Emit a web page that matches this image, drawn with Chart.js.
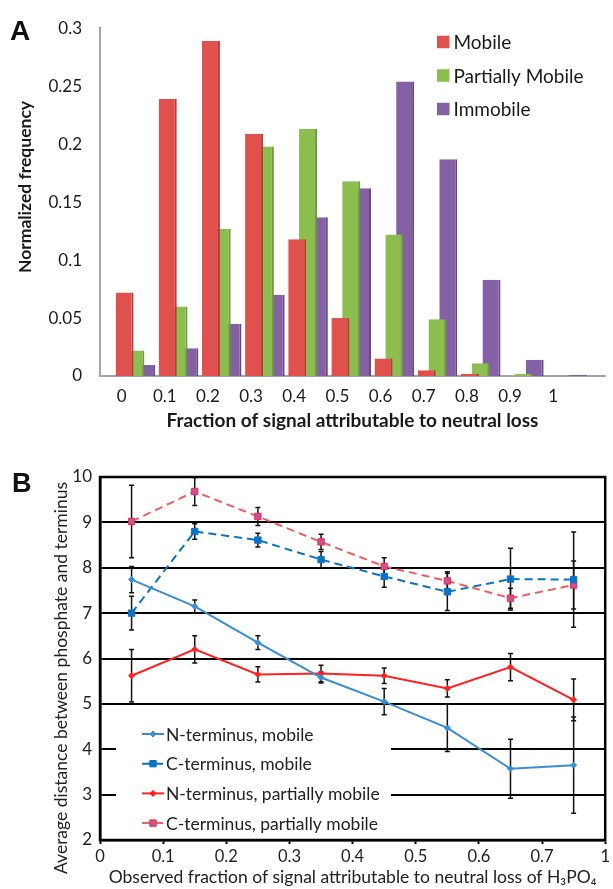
<!DOCTYPE html>
<html>
<head>
<meta charset="utf-8">
<script src="https://cdn.jsdelivr.net/npm/chart.js@4.4.0/dist/chart.umd.min.js"></script>
<style>
  html, body { margin: 0; padding: 0; background: #fff; }
  #wrap { position: relative; width: 613px; height: 889px; overflow: hidden; }
  canvas { position: absolute; left: 0; }
  #chartA { top: 0; }
  #chartB { top: 450px; }
</style>
</head>
<body>
<div id="wrap">
  <canvas id="chartA" width="613" height="440"></canvas>
  <canvas id="chartB" width="613" height="439"></canvas>
</div>
<script>
// ---- Panel A: normalized frequency per neutral-loss bin ----
var fractionBins = [0, 0.1, 0.2, 0.3, 0.4, 0.5, 0.6, 0.7, 0.8, 0.9, 1];
var binLabels = ['0', '0.1', '0.2', '0.3', '0.4', '0.5', '0.6', '0.7', '0.8', '0.9', '1'];
var mobileFreq = [0.072, 0.239, 0.289, 0.209, 0.118, 0.050, 0.015, 0.005, 0.002, 0, 0];
var partialFreq = [0.022, 0.060, 0.127, 0.198, 0.213, 0.168, 0.122, 0.049, 0.011, 0.002, 0];
var immobileFreq = [0.0095, 0.024, 0.045, 0.070, 0.137, 0.162, 0.254, 0.187, 0.083, 0.014, 0.001];
var freqTicks = [0, 0.05, 0.1, 0.15, 0.2, 0.25, 0.3];

// ---- Panel B: average distance vs observed fraction ----
var observedFraction = [0.05, 0.15, 0.25, 0.35, 0.45, 0.55, 0.65, 0.75];
var fractionTickValues = [0, 0.1, 0.2, 0.3, 0.4, 0.5, 0.6, 0.7, 0.8];
var fractionTickLabels = ['0', '0.1', '0.2', '0.3', '0.4', '0.5', '0.6', '0.7', '1'];
var nTermMobile = [7.74, 7.15, 6.35, 5.58, 5.05, 4.47, 3.57, 3.65];
var nTermMobileErr = [0.29, 0.14, 0.15, 0.12, 0.29, 0.52, 0.65, 1.06];
var cTermMobile = [7.00, 8.80, 8.61, 8.18, 7.81, 7.47, 7.75, 7.74];
var cTermMobileErr = [0.37, 0.17, 0.15, 0.18, 0.24, 0.41, 0.68, 1.05];
var nTermPartial = [5.62, 6.20, 5.65, 5.67, 5.62, 5.34, 5.81, 5.09];
var nTermPartialErr = [0.58, 0.30, 0.17, 0.18, 0.17, 0.19, 0.30, 0.46];
var cTermPartial = [9.02, 9.68, 9.13, 8.57, 8.03, 7.71, 7.33, 7.62];
var cTermPartialErr = [0.80, 0.31, 0.20, 0.17, 0.19, 0.20, 0.22, 0.53];

Chart.defaults.font.family = 'Lato, "Open Sans", sans-serif';
Chart.defaults.animation = false;

// bars inside a bin overlap a bit, like the spreadsheet original
var BAR_STEP = 0.025;
var BAR_START = 0.007;

var toPoints = function(xs, ys, shift) {
    return ys.map(function(v, i) { return {x: xs[i] + shift, y: v}; });
};

// text drawn straight on the canvas: panel letter and the rotated y title
var panelText = {
    id: 'panelText',
    afterDraw: function(chart, args, opts) {
        var ctx = chart.ctx;
        ctx.save();
        ctx.fillStyle = '#111';
        ctx.font = opts.letterFont;
        ctx.textBaseline = 'alphabetic';
        ctx.fillText(opts.letter, opts.letterX, opts.letterY);

        ctx.translate(opts.titleX, opts.titleY);
        ctx.rotate(-Math.PI / 2);
        ctx.font = opts.titleFont;
        ctx.fillStyle = opts.titleColor;
        ctx.textAlign = 'center';
        ctx.textBaseline = 'middle';
        ctx.fillText(opts.title, 0, 0);
        ctx.restore();
    }
};

var squareLegend = {
    id: 'squareLegend',
    afterDraw: function(chart, args, opts) {
        var ctx = chart.ctx;
        ctx.save();
        ctx.font = opts.font;
        ctx.textBaseline = 'middle';
        chart.data.datasets.forEach(function(ds, i) {
            var y = opts.top + i * opts.rowGap;
            ctx.fillStyle = ds.backgroundColor;
            ctx.fillRect(opts.left, y - opts.box / 2, opts.box, opts.box);
            ctx.fillStyle = opts.color;
            ctx.fillText(ds.label, opts.left + opts.box + opts.gap, y + 1);
        });
        ctx.restore();
    }
};

var drawMarker = function(ctx, style, r, x, y) {
    ctx.beginPath();
    if (style === 'rectRot') {
        ctx.moveTo(x, y - r);
        ctx.lineTo(x + r, y);
        ctx.lineTo(x, y + r);
        ctx.lineTo(x - r, y);
        ctx.closePath();
    } else {
        var s = r * Math.SQRT1_2;
        ctx.rect(x - s, y - s, 2 * s, 2 * s);
    }
    ctx.fill();
    ctx.stroke();
};

// white legend box sitting on the grid, lower left of panel B
var lineLegend = {
    id: 'lineLegend',
    beforeDatasetsDraw: function(chart, args, opts) {
        var ctx = chart.ctx, area = chart.chartArea;
        var x0 = area.left + opts.left;
        var y0 = area.bottom - opts.bottom - opts.height;
        ctx.save();
        ctx.fillStyle = '#fff';
        ctx.fillRect(x0, y0, opts.width, opts.height);
        ctx.font = opts.font;
        ctx.textBaseline = 'middle';
        chart.data.datasets.forEach(function(ds, i) {
            var y = y0 + opts.firstRow + i * opts.rowGap;
            var lx = x0 + opts.sampleLeft;
            ctx.strokeStyle = ds.borderColor;
            ctx.lineWidth = ds.borderWidth;
            ctx.setLineDash(ds.borderDash || []);
            ctx.beginPath();
            ctx.moveTo(lx, y);
            ctx.lineTo(lx + opts.sample, y);
            ctx.stroke();
            ctx.setLineDash([]);
            ctx.fillStyle = ds.pointBackgroundColor;
            ctx.strokeStyle = ds.pointBorderColor;
            ctx.lineWidth = 1;
            drawMarker(ctx, ds.pointStyle, ds.pointRadius, lx + opts.sample / 2, y);
            ctx.fillStyle = opts.color;
            ctx.fillText(ds.label, lx + opts.sample + 2, y + 1);
        });
        ctx.restore();
    }
};

var errorBars = {
    id: 'errorBars',
    beforeDatasetsDraw: function(chart, args, opts) {
        var ctx = chart.ctx, yScale = chart.scales.y;
        ctx.save();
        ctx.strokeStyle = opts.color;
        ctx.lineWidth = opts.width;
        chart.data.datasets.forEach(function(ds, i) {
            var meta = chart.getDatasetMeta(i);
            (ds.errors || []).forEach(function(err, j) {
                var x = meta.data[j].x;
                var yTop = yScale.getPixelForValue(ds.data[j].y + err);
                var yBot = yScale.getPixelForValue(ds.data[j].y - err);
                ctx.beginPath();
                ctx.moveTo(x, yTop);
                ctx.lineTo(x, yBot);
                ctx.moveTo(x - opts.cap, yTop);
                ctx.lineTo(x + opts.cap, yTop);
                ctx.moveTo(x - opts.cap, yBot);
                ctx.lineTo(x + opts.cap, yBot);
                ctx.stroke();
            });
        });
        ctx.restore();
    }
};

var frameBox = {
    id: 'frameBox',
    afterDraw: function(chart, args, opts) {
        var ctx = chart.ctx, a = chart.chartArea;
        ctx.save();
        ctx.strokeStyle = opts.color;
        ctx.lineWidth = opts.width;
        ctx.strokeRect(a.left, a.top, a.right - a.left, a.bottom - a.top);
        ctx.restore();
    }
};

// ---------------- chart A ----------------
var barDataset = function(label, values, index, fill, edge) {
    return {
        label: label,
        data: toPoints(fractionBins, values, BAR_START + index * BAR_STEP),
        backgroundColor: fill,
        borderColor: edge,
        borderWidth: {top: 0, right: 2, bottom: 0, left: 0},
        grouped: false,
        categoryPercentage: 1,
        barPercentage: 1.67
    };
};

new Chart(document.getElementById('chartA'), {
    type: 'bar',
    data: {
        datasets: [
            barDataset('Mobile', mobileFreq, 0, '#e0504c', '#b73c39'),
            barDataset('Partially Mobile', partialFreq, 1, '#8cbd4f', '#6f9a3b'),
            barDataset('Immobile', immobileFreq, 2, '#8461a4', '#654985')
        ]
    },
    options: {
        responsive: false,
        layout: {padding: {top: 28, right: 8, left: 0, bottom: 0}},
        plugins: {
            legend: {display: false},
            tooltip: {enabled: false},
            panelText: {
                letter: 'A', letterX: 10, letterY: 40,
                letterFont: 'bold 28px "Liberation Sans", Arial, sans-serif',
                title: 'Normalized frequency', titleX: 25, titleY: 187,
                titleFont: 'bold 17.5px Lato, sans-serif', titleColor: '#1a1a1a'
            },
            squareLegend: {
                left: 437, top: 42, rowGap: 33.5, box: 12.5, gap: 4,
                font: '19px Lato, sans-serif', color: '#1a1a1a'
            }
        },
        scales: {
            x: {
                type: 'linear',
                min: -0.05,
                max: 1.12,
                offset: false,
                afterBuildTicks: function(scale) {
                    scale.ticks = fractionBins.map(function(v) { return {value: v}; });
                },
                afterFit: function(scale) { scale.height = 64; },
                ticks: {
                    padding: 10,
                    color: '#1a1a1a',
                    font: {size: 17},
                    maxRotation: 0,
                    autoSkip: false,
                    callback: function(value, i) { return binLabels[i]; }
                },
                grid: {display: false, drawTicks: false},
                border: {display: true, color: '#a4a4a4', width: 2},
                title: {
                    display: true,
                    text: 'Fraction of signal attributable to neutral loss',
                    color: '#1a1a1a',
                    font: {size: 19, weight: 'bold'},
                    padding: {top: 0, bottom: 8}
                }
            },
            y: {
                min: 0,
                max: 0.3,
                afterBuildTicks: function(scale) {
                    scale.ticks = freqTicks.map(function(v) { return {value: v}; });
                },
                afterFit: function(scale) { scale.width = 100; },
                ticks: {
                    padding: 18,
                    color: '#1a1a1a',
                    font: {size: 17},
                    callback: function(value) { return String(value); }
                },
                grid: {display: false, drawTicks: false},
                border: {display: true, color: '#a4a4a4', width: 2}
            }
        }
    },
    plugins: [panelText, squareLegend]
});

// ---------------- chart B ----------------
var lineDataset = function(label, values, errs, opts) {
    return {
        label: label,
        data: toPoints(observedFraction, values, 0),
        errors: errs,
        borderColor: opts.color,
        borderWidth: 2,
        borderDash: opts.dash,
        pointStyle: opts.marker,
        pointRadius: opts.radius,
        pointBackgroundColor: opts.markerFill,
        pointBorderColor: opts.markerEdge,
        pointBorderWidth: 1,
        fill: false,
        tension: 0
    };
};

new Chart(document.getElementById('chartB'), {
    type: 'line',
    data: {
        datasets: [
            lineDataset('N-terminus, mobile', nTermMobile, nTermMobileErr,
                {color: '#3a8dd0', dash: [], marker: 'rectRot', radius: 3, markerFill: '#3a8dd0', markerEdge: '#3a8dd0'}),
            lineDataset('C-terminus, mobile', cTermMobile, cTermMobileErr,
                {color: '#0b72c6', dash: [8, 5], marker: 'rect', radius: 4.5, markerFill: '#0b72c6', markerEdge: '#0b72c6'}),
            lineDataset('N-terminus, partially mobile', nTermPartial, nTermPartialErr,
                {color: '#ff2020', dash: [], marker: 'rectRot', radius: 3, markerFill: '#ff2020', markerEdge: '#ff2020'}),
            lineDataset('C-terminus, partially mobile', cTermPartial, cTermPartialErr,
                {color: '#eb6060', dash: [8, 5], marker: 'rect', radius: 4.5, markerFill: '#c85592', markerEdge: '#f0284e'})
        ]
    },
    options: {
        responsive: false,
        layout: {padding: {top: 27, right: 4, left: 0, bottom: 0}},
        plugins: {
            legend: {display: false},
            tooltip: {enabled: false},
            panelText: {
                letter: 'B', letterX: 12, letterY: 42,
                letterFont: 'bold 27px "Liberation Sans", Arial, sans-serif',
                title: 'Average distance between phosphate and terminus', titleX: 61, titleY: 228,
                titleFont: '17.5px Lato, sans-serif', titleColor: '#222'
            },
            lineLegend: {
                left: 16, bottom: 3, width: 275, height: 125,
                firstRow: 22, rowGap: 29.7, sampleLeft: 26, sample: 22,
                font: '17.5px Lato, sans-serif', color: '#222'
            },
            errorBars: {color: '#111', width: 1.5, cap: 2.5},
            frameBox: {color: '#000', width: 2.5}
        },
        scales: {
            x: {
                type: 'linear',
                min: 0,
                max: 0.8,
                afterBuildTicks: function(scale) {
                    scale.ticks = fractionTickValues.map(function(v) { return {value: v}; });
                },
                afterFit: function(scale) { scale.height = 49; },
                ticks: {
                    padding: 3,
                    color: '#222',
                    font: {size: 16.5},
                    maxRotation: 0,
                    autoSkip: false,
                    callback: function(value, i) { return fractionTickLabels[i]; }
                },
                grid: {drawOnChartArea: false, tickLength: 4, tickColor: '#000', tickWidth: 2},
                border: {display: true, color: '#000', width: 2.5},
                title: {
                    display: true,
                    text: 'Observed fraction of signal attributable to neutral loss of H\u2083PO\u2084',
                    color: '#222',
                    font: {size: 17.5},
                    padding: {top: 0, bottom: 1}
                }
            },
            y: {
                min: 2,
                max: 10,
                ticks: {stepSize: 1, padding: 8, color: '#222', font: {size: 17}},
                afterFit: function(scale) { scale.width = 100; },
                grid: {color: '#000', lineWidth: 2, drawTicks: false},
                border: {display: true, color: '#000', width: 2.5}
            }
        }
    },
    plugins: [panelText, lineLegend, errorBars, frameBox]
});
</script>
</body>
</html>
